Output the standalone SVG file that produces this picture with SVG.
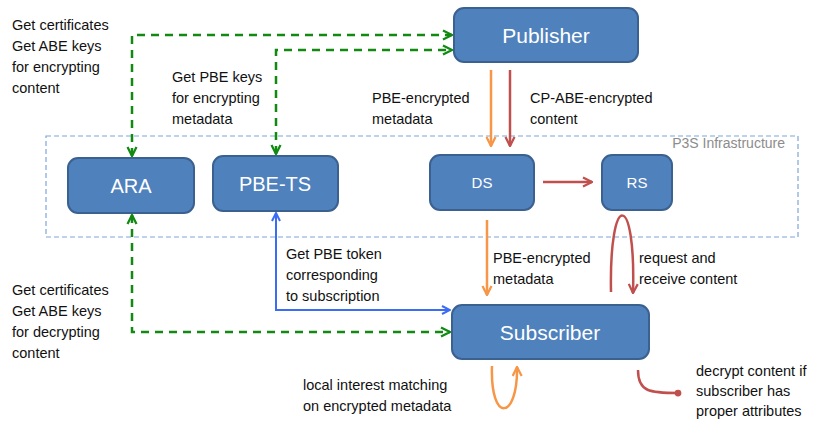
<svg xmlns="http://www.w3.org/2000/svg" width="827" height="421" viewBox="0 0 827 421">
<style>
.node rect{fill:#4f81bd;stroke:#3a6190;stroke-width:2}
.node text{fill:#fff;font-family:"Liberation Sans",Arial,sans-serif;text-anchor:middle}
.lbl{font-family:"Liberation Sans",Arial,sans-serif;font-size:14.5px;fill:#111}
.g{fill:none;stroke:#128a12;stroke-width:2.5;stroke-dasharray:8 6}
.o{fill:none;stroke:#f79646;stroke-width:2.5}
.r{fill:none;stroke:#c0504d;stroke-width:2.5}
.b{fill:none;stroke:#3b6cf5;stroke-width:2}
</style>
<defs>
<marker id="ag" viewBox="0 0 10 10" refX="9" refY="5" markerWidth="4.5" markerHeight="4.5" orient="auto-start-reverse" markerUnits="strokeWidth"><path d="M1,1 L9,5 L1,9" fill="none" stroke="#128a12" stroke-width="2"/></marker>
<marker id="ao" viewBox="0 0 10 10" refX="9" refY="5" markerWidth="4.5" markerHeight="4.5" orient="auto" markerUnits="strokeWidth"><path d="M1,1 L9,5 L1,9" fill="none" stroke="#f79646" stroke-width="2"/></marker>
<marker id="ar" viewBox="0 0 10 10" refX="9" refY="5" markerWidth="4.5" markerHeight="4.5" orient="auto" markerUnits="strokeWidth"><path d="M1,1 L9,5 L1,9" fill="none" stroke="#c0504d" stroke-width="2"/></marker>
<marker id="ab" viewBox="0 0 10 10" refX="9" refY="5" markerWidth="5" markerHeight="5" orient="auto-start-reverse" markerUnits="strokeWidth"><path d="M1,1 L9,5 L1,9" fill="none" stroke="#3b6cf5" stroke-width="2"/></marker>
<marker id="dot" viewBox="0 0 10 10" refX="5" refY="5" markerWidth="3" markerHeight="3" orient="auto" markerUnits="strokeWidth"><circle cx="5" cy="5" r="4.5" fill="#c0504d"/></marker>
</defs>
<rect x="46" y="136" width="752" height="101" fill="none" stroke="#7ea6d6" stroke-width="1.2" stroke-dasharray="5 3"/>
<text x="785" y="148" font-family="'Liberation Sans',Arial,sans-serif" font-size="14" fill="#8c8c8c" text-anchor="end">P3S Infrastructure</text>
<g id="connectors">
<path class="g" d="M132,156 V35 H452" marker-start="url(#ag)" marker-end="url(#ag)"/>
<path class="g" d="M276,154 V50 H452" marker-start="url(#ag)" marker-end="url(#ag)"/>
<path class="g" d="M132,215 V332 H450" marker-start="url(#ag)" marker-end="url(#ag)"/>
<path class="b" d="M276,213 V310 H450" marker-start="url(#ab)" marker-end="url(#ab)"/>
<path class="o" d="M491,70 V146" marker-end="url(#ao)"/>
<path class="r" d="M510,70 V146" marker-end="url(#ar)"/>
<path class="r" d="M543,182 H592" marker-end="url(#ar)"/>
<path class="o" d="M487,220 V295" marker-end="url(#ao)"/>
<path class="r" d="M611,292 C609,190 636,190 633,293" marker-end="url(#ar)"/>
<path class="o" d="M492,366 C490,424 518,420 517,367" marker-end="url(#ao)"/>
<path class="r" d="M638,370 C638,392 650,393 678,393" marker-end="url(#dot)"/>
</g>
<g id="publisher" class="node"><rect x="454" y="8" width="184" height="54" rx="10"/><text x="546" y="43" font-size="21">Publisher</text></g>
<g id="ara" class="node"><rect x="68" y="158" width="126" height="55" rx="10"/><text x="131" y="193" font-size="20">ARA</text></g>
<g id="pbe-ts" class="node"><rect x="213" y="156" width="125" height="55" rx="10"/><text x="275" y="191" font-size="20">PBE-TS</text></g>
<g id="ds" class="node"><rect x="430" y="155" width="104" height="55" rx="10"/><text x="482" y="188" font-size="15">DS</text></g>
<g id="rs" class="node"><rect x="602" y="155" width="70" height="55" rx="10"/><text x="637" y="188" font-size="15">RS</text></g>
<g id="subscriber" class="node"><rect x="452" y="305" width="197" height="54" rx="10"/><text x="550" y="340" font-size="21">Subscriber</text></g>
<g id="labels">
<text class="lbl" x="12" y="30">Get certificates</text>
<text class="lbl" x="12" y="51">Get ABE keys</text>
<text class="lbl" x="12" y="72">for encrypting</text>
<text class="lbl" x="12" y="93">content</text>
<text class="lbl" x="172" y="82">Get PBE keys</text>
<text class="lbl" x="172" y="103">for encrypting</text>
<text class="lbl" x="172" y="124">metadata</text>
<text class="lbl" x="372" y="103">PBE-encrypted</text>
<text class="lbl" x="372" y="124">metadata</text>
<text class="lbl" x="530" y="103">CP-ABE-encrypted</text>
<text class="lbl" x="530" y="124">content</text>
<text class="lbl" x="286" y="259">Get PBE token</text>
<text class="lbl" x="286" y="280">corresponding</text>
<text class="lbl" x="286" y="301">to subscription</text>
<text class="lbl" x="12" y="295">Get certificates</text>
<text class="lbl" x="12" y="316">Get ABE keys</text>
<text class="lbl" x="12" y="337">for decrypting</text>
<text class="lbl" x="12" y="358">content</text>
<text class="lbl" x="493" y="263">PBE-encrypted</text>
<text class="lbl" x="493" y="284">metadata</text>
<text class="lbl" x="639" y="263">request and</text>
<text class="lbl" x="639" y="284">receive content</text>
<text class="lbl" x="303" y="390">local interest matching</text>
<text class="lbl" x="303" y="411">on encrypted metadata</text>
<text class="lbl" x="696" y="376">decrypt content if</text>
<text class="lbl" x="696" y="396">subscriber has</text>
<text class="lbl" x="696" y="416">proper attributes</text>
</g>
</svg>
